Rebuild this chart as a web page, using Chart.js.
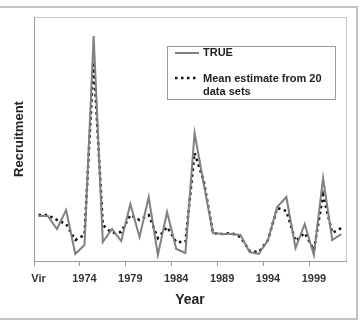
<!DOCTYPE html>
<html>
<head>
<meta charset="utf-8">
<script src="https://cdn.jsdelivr.net/npm/chart.js@4/dist/chart.umd.min.js"></script>
<style>
  html, body { margin: 0; padding: 0; background: #fff; }
  #wrap { width: 361px; height: 322px; }
</style>
</head>
<body>
<div id="wrap"><canvas id="chart" width="361" height="322"></canvas></div>
<script>
// categories: virgin level, then 1970..2002
const years = ["Vir", "1970", "1971", "1972", "1973", "1974", "1975", "1976", "1977", "1978",
  "1979", "1980", "1981", "1982", "1983", "1984", "1985", "1986", "1987", "1988",
  "1989", "1990", "1991", "1992", "1993", "1994", "1995", "1996", "1997", "1998",
  "1999", "2000", "2001", "2002"];

// which categories get a tick label
const tickLabels = ["Vir", "1974", "1979", "1984", "1989", "1994", "1999"];

// recruitment (arbitrary units)
const trueRec = [45, 45, 32, 51, 7, 16, 225, 19, 32, 20, 57, 24, 64, 6, 49, 12, 8, 128, 77, 28,
  27, 27, 26, 9, 7, 21, 54, 64, 13, 37, 6, 83, 21, 27];
const meanRec = [46, 46, 41, 37, 21, 26, 199, 36, 28, 29, 46, 41, 46, 23, 34, 19, 19, 108, 80, 28,
  27, 28, 24, 10, 9, 21, 53, 50, 20, 28, 11, 66, 28, 33];

const FONT = "'Liberation Sans', Arial, sans-serif";

// frame around the plot area, outer border and the boxed legend
const framePlugin = {
  id: "frame",
  beforeDraw(chart) {
    const { ctx, chartArea: a } = chart;
    ctx.save();
    ctx.strokeStyle = "#c8c8c8";
    ctx.lineWidth = 1;
    ctx.strokeRect(a.left + 0.5, a.top + 0.5, a.right - a.left, a.bottom - a.top);
    ctx.restore();
  },
  afterDraw(chart) {
    const { ctx } = chart;
    const ds = chart.data.datasets;
    ctx.save();
    // outer border
    ctx.strokeStyle = "#c4c4c4";
    ctx.lineWidth = 2;
    ctx.strokeRect(-5, 7, 362, 312);

    // legend box
    ctx.fillStyle = "#fff";
    ctx.fillRect(167, 46, 168, 53);
    ctx.strokeStyle = "#9a9a9a";
    ctx.lineWidth = 1;
    ctx.strokeRect(167.5, 46.5, 168, 53);

    ctx.lineWidth = ds[0].borderWidth;
    ctx.strokeStyle = ds[0].borderColor;
    ctx.setLineDash([]);
    ctx.beginPath();
    ctx.moveTo(175, 53);
    ctx.lineTo(199, 53);
    ctx.stroke();

    ctx.lineWidth = ds[1].borderWidth;
    ctx.strokeStyle = ds[1].borderColor;
    ctx.setLineDash(ds[1].borderDash);
    ctx.beginPath();
    ctx.moveTo(175, 78);
    ctx.lineTo(197, 78);
    ctx.stroke();
    ctx.setLineDash([]);

    ctx.fillStyle = "#222";
    ctx.font = "bold 11px " + FONT;
    ctx.textBaseline = "middle";
    ctx.fillText(ds[0].label, 203, 53);
    ctx.fillText("Mean estimate from 20", 203, 79);
    ctx.fillText("data sets", 203, 92);
    ctx.restore();
  },
};

new Chart(document.getElementById("chart"), {
  type: "line",
  data: {
    labels: years,
    datasets: [
      {
        label: "TRUE",
        data: trueRec,
        borderColor: "#808080",
        borderWidth: 2,
        pointRadius: 0,
        tension: 0,
      },
      {
        label: "Mean estimate from 20 data sets",
        data: meanRec,
        borderColor: "#111111",
        borderWidth: 2.5,
        borderDash: [2.5, 3.5],
        pointRadius: 0,
        tension: 0,
      },
    ],
  },
  options: {
    responsive: false,
    animation: false,
    layout: { padding: { top: 17, right: 15, left: 0, bottom: 0 } },
    plugins: {
      legend: { display: false },
      tooltip: { enabled: false },
    },
    scales: {
      x: {
        offset: true,
        grid: {
          offset: true,
          drawOnChartArea: false,
          tickLength: 5,
          color: (c) => (c.index % 5 === 0 ? "#9a9a9a" : "rgba(0,0,0,0)"),
        },
        border: { color: "#9a9a9a", width: 1 },
        ticks: {
          autoSkip: false,
          maxRotation: 0,
          padding: 6,
          color: "#333",
          font: { family: FONT, size: 11, weight: "bold" },
          callback: function (val, i) {
            const lab = years[i];
            return tickLabels.includes(lab) ? lab : "";
          },
        },
        title: {
          display: true,
          text: "Year",
          color: "#222",
          font: { family: FONT, size: 14, weight: "bold" },
          padding: { top: 0, bottom: 13 },
        },
        afterFit(scale) {
          scale.height = 61;
        },
      },
      y: {
        min: 0,
        max: 244,
        grid: { display: false },
        border: { color: "#9a9a9a", width: 1 },
        ticks: { display: false },
        title: {
          display: true,
          text: "Recruitment",
          color: "#222",
          font: { family: FONT, size: 13, weight: "bold" },
          padding: { top: 12, bottom: 0 },
        },
        afterFit(scale) {
          scale.width = 34;
        },
      },
    },
  },
  plugins: [framePlugin],
});
</script>
</body>
</html>
